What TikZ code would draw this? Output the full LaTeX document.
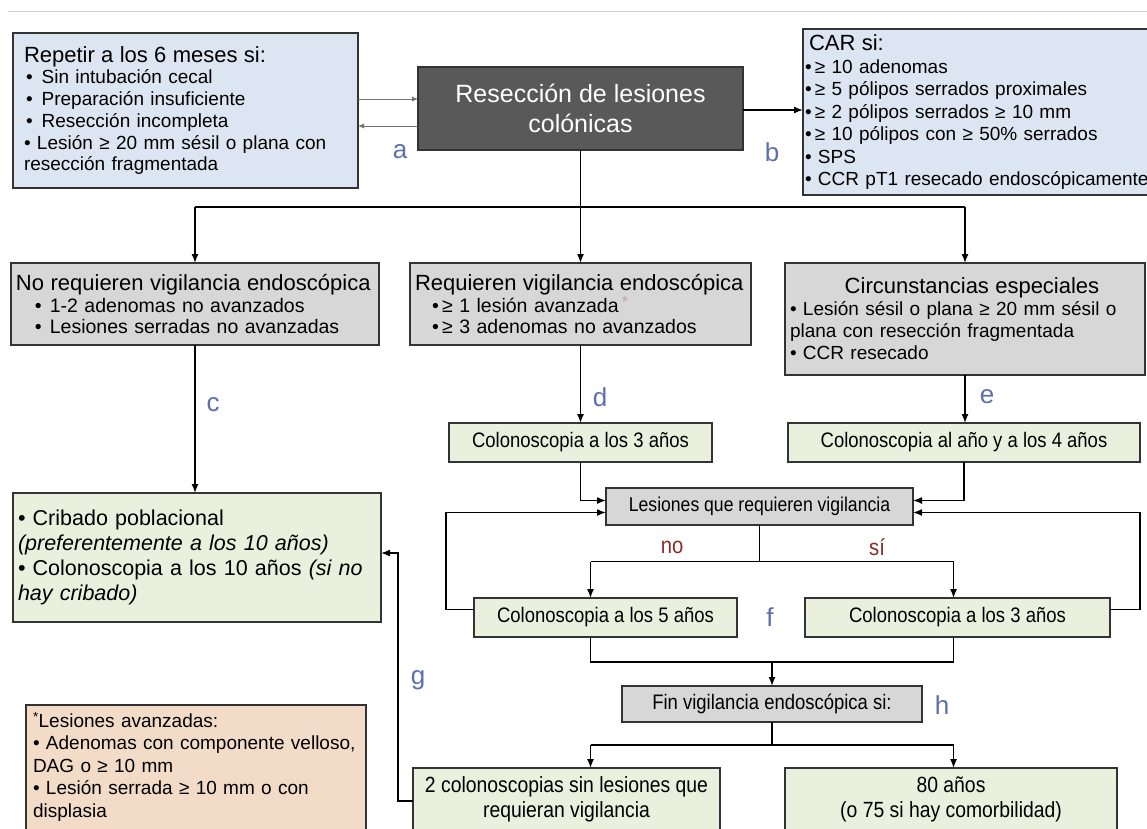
\documentclass[tikz,border=0pt]{standalone}
\usepackage{fontspec}
\setmainfont{Liberation Sans}
\newfontfamily\narrowfont[FakeStretch=0.88]{Liberation Sans}
\usetikzlibrary{arrows.meta,calc}

\definecolor{boxblue}{HTML}{DCE6F2}
\definecolor{boxgray}{HTML}{D7D7D7}
\definecolor{boxgreen}{HTML}{EAF0DD}
\definecolor{boxpeach}{HTML}{F2DCC8}
\definecolor{boxdark}{HTML}{595959}
\definecolor{edgegray}{HTML}{333333}
\definecolor{labelblue}{HTML}{5D6FAD}
\definecolor{answerred}{HTML}{8E2A2A}
\definecolor{rulegray}{HTML}{D0D0D0}
\definecolor{starpink}{HTML}{C9A0A8}

\newcommand{\setpx}[2]{\fontsize{#1}{#2}\selectfont}

\tikzset{
  box/.style={draw=edgegray, line width=1.4pt, inner sep=0pt, outer sep=0pt},
  bluebox/.style={box, fill=boxblue},
  graybox/.style={box, fill=boxgray},
  greenbox/.style={box, fill=boxgreen},
  peachbox/.style={box, fill=boxpeach},
  darkbox/.style={box, fill=boxdark, text=white},
  narrowtext/.style={font=\narrowfont\setpx{21}{25}},
  line/.style={draw=black, line width=1.4pt},
  arr/.style={line, -{Latex[length=9pt,width=7pt]}},
  thinarr/.style={draw=black!55, line width=0.9pt, -{Latex[length=6pt,width=5pt]}},
  letter/.style={text=labelblue, font=\setpx{26}{30}, inner sep=0pt},
  answer/.style={text=answerred, font=\narrowfont\setpx{23}{26}, inner sep=0pt},
}

\begin{document}
\begin{tikzpicture}[x=1pt,y=-1pt]
\useasboundingbox (0,0) rectangle (1147,828);
\fill[white] (0,0) rectangle (1147,828);
\clip (0,0) rectangle (1147,828);

% thin rule along the top
\draw[rulegray, line width=1pt] (8,11) -- (1147,11);

% ---- top row ----
\node[bluebox, minimum width=345pt, minimum height=155pt, text width=323pt,
      align=left, font=\setpx{19}{21.7}] (A) at (185.5,110.5) {%
  {\setpx{22}{25}Repetir a los 6 meses si:}\\
  \hspace*{2pt}•\hspace{9pt}Sin intubación cecal\\
  \hspace*{2pt}•\hspace{9pt}Preparación insuficiente\\
  \hspace*{2pt}•\hspace{9pt}Resección incompleta\\
  • Lesión ≥ 20 mm sésil o plana con\\
  resección fragmentada};

\node[darkbox, minimum width=325pt, minimum height=83pt, align=center,
      font=\setpx{25}{30}] (R) at (580.5,108.5) {Resección de lesiones\\colónicas};

\node[bluebox, minimum width=367pt, minimum height=166pt, text width=363pt,
      align=left, font=\setpx{19}{22.5}] (CAR) at (986.5,112) {%
  {\setpx{22}{25}\hspace*{4pt}CAR si:}\\
  •\,≥ 10 adenomas\\
  •\,≥ 5 pólipos serrados proximales\\
  •\,≥ 2 pólipos serrados ≥ 10 mm\\
  •\,≥ 10 pólipos con ≥ 50\% serrados\\
  • SPS\\
  • CCR pT1 resecado endoscópicamente};

% ---- second row ----
\node[graybox, minimum width=368pt, minimum height=82pt, text width=358pt,
      align=left, font=\setpx{19.5}{21.5}] (NoReq) at (195,304) {%
  {\setpx{22}{25}No requieren vigilancia endoscópica}\\
  \hspace*{19pt}•\hspace{8pt}1-2 adenomas no avanzados\\
  \hspace*{19pt}•\hspace{8pt}Lesiones serradas no avanzadas};

\node[graybox, minimum width=341pt, minimum height=82pt, text width=331pt,
      align=left, font=\setpx{19.5}{21.5}] (Req) at (580.5,304) {%
  {\setpx{22}{25}Requieren vigilancia endoscópica}\\
  \hspace*{17pt}•\,≥ 1 lesión avanzada\,\raisebox{5pt}{\textcolor{starpink}{\setpx{16}{16}*}}\\
  \hspace*{17pt}•\,≥ 3 adenomas no avanzados};

\node[graybox, minimum width=360pt, minimum height=112pt, text width=350pt,
      align=left, font=\setpx{19}{22}] (Circ) at (965,319) {%
  \makebox[350pt][c]{\setpx{22}{25}\hspace*{14pt}Circunstancias especiales}\\
  • Lesión sésil o plana ≥ 20 mm sésil o\\
  plana con resección fragmentada\\
  • CCR resecado};

% ---- follow-up boxes ----
\node[greenbox, minimum width=368pt, minimum height=129pt, text width=358pt,
      align=left, font=\setpx{21.5}{25}] (Crib) at (197,557.5) {%
  • Cribado poblacional\\
  \textit{(preferentemente a los 10 años)}\\
  • Colonoscopia a los 10 años \textit{(si no}\\
  \textit{hay cribado)}};

\node[greenbox, narrowtext, minimum width=263pt, minimum height=39pt] (Colon3) at (580.5,442.5)
  {Colonoscopia a los 3 años};
\node[greenbox, narrowtext, minimum width=352pt, minimum height=39pt] (ColonAl) at (964,442.5)
  {Colonoscopia al año y a los 4 años};

\node[graybox, font=\narrowfont\setpx{20}{24}, minimum width=307pt, minimum height=37pt]
  (Les) at (759.5,506.5) {Lesiones que requieren vigilancia};

\node[greenbox, narrowtext, minimum width=263pt, minimum height=39pt] (Colon5) at (605.5,617.5)
  {Colonoscopia a los 5 años};
\node[greenbox, narrowtext, minimum width=305pt, minimum height=39pt] (Colon3b) at (957.5,617.5)
  {Colonoscopia a los 3 años};

\node[graybox, narrowtext, minimum width=300pt, minimum height=36pt] (Fin) at (772,704)
  {Fin vigilancia endoscópica si:};

\node[greenbox, font=\narrowfont\setpx{22}{25}, align=center, minimum width=307pt,
      minimum height=62pt] (Two) at (566.5,799)
  {2 colonoscopias sin lesiones que\\requieran vigilancia};
\node[greenbox, font=\narrowfont\setpx{22}{25}, align=center, minimum width=332pt,
      minimum height=62pt] (Eighty) at (951,799)
  {80 años\\(o 75 si hay comorbilidad)};

\node[peachbox, anchor=north west, minimum width=340pt, text width=326pt, align=left,
      inner ysep=7pt, font=\setpx{19}{22.5}] (Adv) at (26,705) {%
  \textsuperscript{*}Lesiones avanzadas:\\
  • Adenomas con componente velloso,\\
  DAG o ≥ 10 mm\\
  • Lesión serrada ≥ 10 mm o con\\
  displasia\\[30pt]\mbox{}};

% ---- connectors ----
\coordinate (aIn) at ([yshift=-32pt]R.north west);
\coordinate (aOut) at ([yshift=-59pt]R.north west);
\draw[thinarr] (A.east |- aIn) -- (aIn);
\draw[thinarr] (aOut) -- (A.east |- aOut);

\coordinate (bOut) at ([yshift=-43pt]R.north east);
\draw[arr] (bOut) -- (CAR.west |- bOut);

\coordinate (split1) at ($(R.south)+(0,57)$);
\draw[line] (R.south) -- (split1);
\draw[line] (NoReq.north |- split1) -- (Circ.north |- split1);
\draw[arr] (NoReq.north |- split1) -- (NoReq.north);
\draw[arr] (split1) -- (Req.north);
\draw[arr] (Circ.north |- split1) -- (Circ.north);

\draw[arr] (NoReq.south) -- (NoReq.south |- Crib.north);
\draw[arr] (Req.south) -- (Colon3.north);
\draw[arr] (Circ.south) -- (Circ.south |- ColonAl.north);

\coordinate (lesWa) at ([yshift=6pt]Les.west);
\coordinate (lesWb) at ([yshift=-6pt]Les.west);
\coordinate (lesEa) at ([yshift=6pt]Les.east);
\coordinate (lesEb) at ([yshift=-6pt]Les.east);
\draw[arr] (Colon3.south) |- (lesWa);
\draw[arr] (ColonAl.south) |- (lesEa);
\draw[arr] ([yshift=8pt]Colon5.west) -- ++(-28,0) |- (lesWb);
\draw[arr] ([yshift=8pt]Colon3b.east) -- ++(30,0) |- (lesEb);

\coordinate (split2) at ($(Les.south)!0.5!(Les.south |- Colon5.north)$);
\coordinate (c5in) at ([xshift=-15pt]Colon5.north);
\coordinate (c3in) at ([xshift=-4pt]Colon3b.north);
\coordinate (c5out) at ([xshift=-15pt]Colon5.south);
\coordinate (c3out) at ([xshift=-4pt]Colon3b.south);
\draw[line] (Les.south) -- (split2);
\draw[line] (c5in |- split2) -- (c3in |- split2);
\draw[arr] (c5in |- split2) -- (c5in);
\draw[arr] (c3in |- split2) -- (c3in);

\coordinate (split3) at ($(Fin.north)+(0,-24)$);
\draw[line] (c5out) -- (c5out |- split3) -- (c3out |- split3) -- (c3out);
\draw[arr] (split3) -- (Fin.north);

\coordinate (split4) at ($(Fin.south)+(0,23)$);
\draw[line] (Fin.south) -- (split4);
\draw[line] (c5in |- split4) -- (c3in |- split4);
\draw[arr] (c5in |- split4) -- (c5in |- Two.north);
\draw[arr] (c3in |- split4) -- (c3in |- Eighty.north);

\coordinate (gIn) at ([yshift=4.5pt]Crib.east);
\draw[arr] ([yshift=-2pt]Two.west) -- ++(-15,0) |- (gIn);

% ---- branch letters and answers ----
\node[letter] (la) at (400,152) {a};
\node[letter] (lb) at (772,152) {b};
\node[letter] (lc) at (213,405) {c};
\node[letter] (ld) at (600,397) {d};
\node[letter] (le) at (987,397) {e};
\node[letter] (lf) at (770,617) {f};
\node[letter] (lg) at (418,680) {g};
\node[letter] (lh) at (942,705) {h};
\node[answer] (no) at (672,547) {no};
\node[answer] (si) at (877,547) {sí};
\end{tikzpicture}
\end{document}
